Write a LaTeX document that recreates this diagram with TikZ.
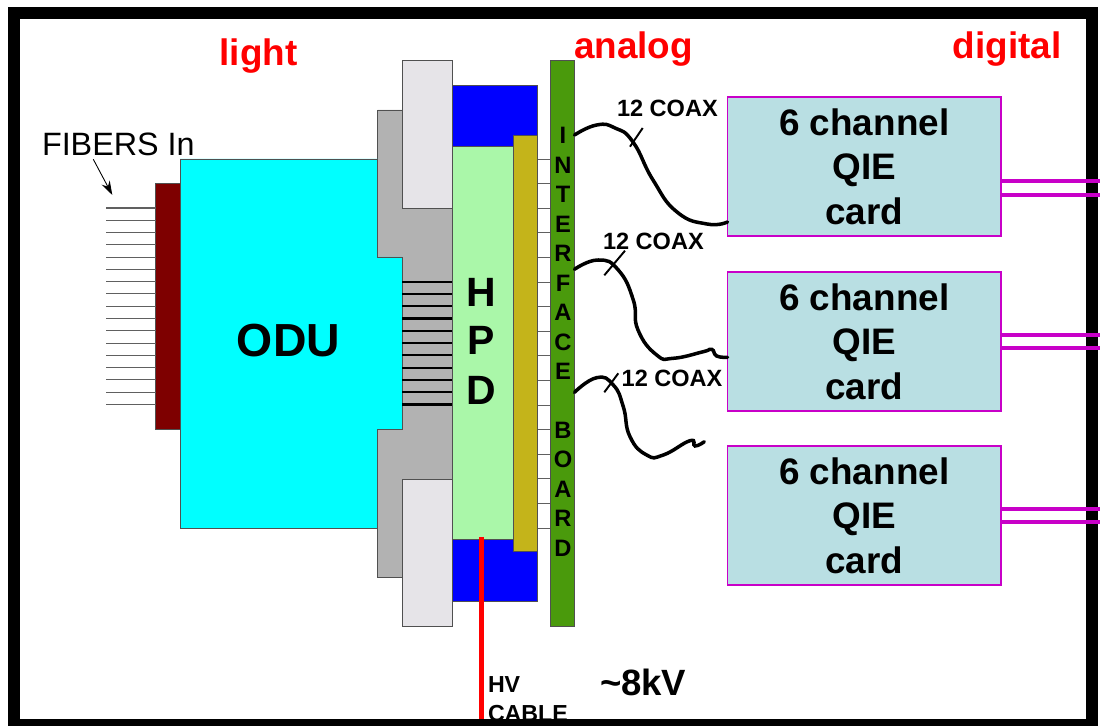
\documentclass[tikz,border=0pt]{standalone}
\usepackage{fontspec}
\setmainfont{Liberation Sans}
\usepackage{tikz}
\usetikzlibrary{arrows.meta}

\definecolor{edgegray}{HTML}{505050}
\definecolor{fibergray}{HTML}{606060}
\definecolor{flangegray}{HTML}{B2B2B2}
\definecolor{platelight}{HTML}{E6E4E8}
\definecolor{oducyan}{HTML}{00FFFF}
\definecolor{hpdgreen}{HTML}{AAF7A9}
\definecolor{oliveboard}{HTML}{C4B41A}
\definecolor{boardgreen}{HTML}{4A9A0C}
\definecolor{cardblue}{HTML}{B9DFE3}
\definecolor{busmagenta}{HTML}{C800C8}
\definecolor{connred}{HTML}{7E0000}

\begin{document}
\begin{tikzpicture}[
            x=0.02cm, y=-0.02cm, % one unit is one pixel of the drawing
            every node/.style={inner sep=0pt, outer sep=0pt},
            part/.style={draw=edgegray, line width=0.5pt}, % Blocks of the detector
            card/.style={draw=busmagenta, line width=0.9pt, fill=cardblue, minimum width=5.47cm, minimum height=2.78cm,
                align=center, font=\fontsize{21}{25.3}\selectfont\bfseries},
            head/.style={anchor=base, text=red, font=\fontsize{21}{25}\selectfont\bfseries},
            coaxlabel/.style={anchor=base west, font=\fontsize{13.4}{16}\selectfont\bfseries},
            hvlabel/.style={anchor=base west, font=\fontsize{13.2}{16}\selectfont\bfseries},
            coax/.style={line width=2pt, line cap=round},
            bus/.style={draw=busmagenta, line width=2.8pt}
            ]

        \clip (0,0) rectangle (1100,726);

        % Flange and ODU body
        \draw[part, fill=flangegray] (377.5,110) -- (452,110) -- (452,577) -- (377.5,577) -- (377.5,429.5)
            -- (402,429.5) -- (402,257) -- (377.5,257) -- cycle;
        \draw[part, fill=oducyan] (180,159) -- (377.5,159) -- (377.5,257) -- (402,257) -- (402,429.5)
            -- (377.5,429.5) -- (377.5,528) -- (180,528) -- cycle;
        \node[font=\fontsize{26.4}{30}\selectfont\bfseries, anchor=base] (odu) at (288.5,357) {ODU};

        \node[part, fill=connred, minimum width=0.49cm, minimum height=4.92cm] (conn) at (167.75,306.5) {};
        \node[part, fill=platelight, minimum width=1cm, minimum height=2.95cm] (platetop) at (427,134.25) {};
        \node[part, fill=platelight, minimum width=1cm, minimum height=2.94cm] (platebot) at (427,552.5) {};

        % HPD stack and interface board
        \node[part, fill=blue, minimum width=1.71cm, minimum height=10.32cm] (hpdcase) at (494.75,343) {};
        \node[part, fill=hpdgreen, minimum width=1.226cm, minimum height=7.856cm] (hpd) at (482.65,342.9) {};
        \node[part, fill=oliveboard, minimum width=0.484cm, minimum height=8.33cm] (olive) at (525.4,343.25) {};
        \node[part, fill=boardgreen, minimum width=0.49cm, minimum height=11.31cm] (board) at (562.25,343.25) {};

        \foreach \letter/\y in {H/306.7, P/355, D/405}
            \node[anchor=base, font=\fontsize{23.3}{28}\selectfont\bfseries] (hpd\letter) at (481.5,\y) {\letter};

        \foreach \i/\letter in {0/I,1/N,2/T,3/E,4/R,5/F,6/A,7/C,8/E,10/B,11/O,12/A,13/R,14/D}
            \node[anchor=base, font=\fontsize{13.5}{15}\selectfont\bfseries] (letter\i) at (563,{144+29.45*\i}) {\letter};

        % Pins between olive board and interface board
        \foreach \i in {0,...,15}{
            \coordinate (pin\i) at (544,{159+24.6*\i});
            \draw[fibergray, line width=0.5pt] (pin\i -| olive.east) -- (pin\i -| board.west);
        }

        % Fibers and the light guides
        \foreach \i in {0,...,16}{
            \coordinate (fiber\i) at (106,{208+12.28*\i});
            \draw[fibergray, line width=0.6pt] (fiber\i) -- (fiber\i -| conn.west);
        }
        \foreach \i in {6,...,16}
            \draw[line width=1.2pt] (fiber\i -| platetop.west) -- (fiber\i -| platetop.east);

        \node[anchor=base west, font=\fontsize{18.4}{22}\selectfont] (fibers) at (42,155.7) {FIBERS In};
        \coordinate (arrowtop) at (93.3,159.3);
        \coordinate (arrowend) at (112.3,195);
        \draw[-{Stealth[length=0.28cm, width=0.18cm]}, line width=0.5pt] (arrowtop) -- (arrowend);

        % QIE cards
        \node[card] (card1) at (864.25,166.5) {6 channel\\QIE\\card};
        \node[card] (card2) at (864.25,341.5) {6 channel\\QIE\\card};
        \node[card] (card3) at (864.25,515.5) {6 channel\\QIE\\card};

        % Coax cables
        \coordinate (coax1a) at (574.5,135);
        \coordinate (coax2a) at (574.5,269.3);
        \coordinate (coax3a) at (574.5,392.3);
        \coordinate (coax3b) at (704.3,441.7);
        \draw[coax] plot[smooth, tension=0.85] coordinates {(coax1a) (596.7,125) (615,128) (633,142) (653,180)
            (677,212) (707,224) (card1.west |- 0,222)};
        \draw[coax] plot[smooth, tension=0.85] coordinates {(coax2a) (598.3,260) (618.3,270) (633.3,300) (638,330)
            (656.7,355) (673.3,358.3) (703.3,351.7) (711.7,349.3) (716.7,356) (card2.west |- 0,357.3)};
        \draw[coax] plot[smooth, tension=0.85] coordinates {(coax3a) (596.7,377.7) (613.3,385) (623.3,406.7) (630,436.7)
            (646.7,455) (663.3,455) (690,440.7) (695,446) (coax3b)};

        \draw[line width=1.1pt] (630,146.7) -- (642.7,128);
        \draw[line width=1.1pt] (604.3,275.3) -- (625,250.7);
        \draw[line width=1.1pt] (604.3,392.3) -- (618.3,373.3);

        \node[coaxlabel] (coaxtext1) at (617,116.7) {12 COAX};
        \node[coaxlabel] (coaxtext2) at (603,250) {12 COAX};
        \node[coaxlabel] (coaxtext3) at (621.7,386.7) {12 COAX};

        % HV cable
        \coordinate (hvtop) at (481.5,537);
        \coordinate (hvend) at (481.5,726);
        \draw[red, line width=2.8pt] (hvtop) -- (hvend);
        \node[hvlabel] (hvtext) at (488,692) {HV};
        \node[hvlabel] (cabletext) at (488,721) {CABLE};
        \node[anchor=base west, font=\fontsize{20.8}{25}\selectfont\bfseries] (kv) at (600,695) {\textasciitilde8kV};

        % Headings
        \node[head] (light) at (258.5,66) {light};
        \node[head] (analog) at (633.5,59) {analog};
        \node[head] (digital) at (1007,59) {digital};

        % Frame
        \draw[line width=6.8pt] (14,13) rectangle (1092,725);

        % Digital outputs, over the frame
        \foreach \i/\ya/\yb in {1/181/195, 2/335/348, 3/509/522}{
            \coordinate (outa\i) at (1100,\ya);
            \coordinate (outb\i) at (1100,\yb);
            \draw[bus] (card\i.east |- outa\i) -- (outa\i);
            \draw[bus] (card\i.east |- outb\i) -- (outb\i);
        }

\end{tikzpicture}
\end{document}
